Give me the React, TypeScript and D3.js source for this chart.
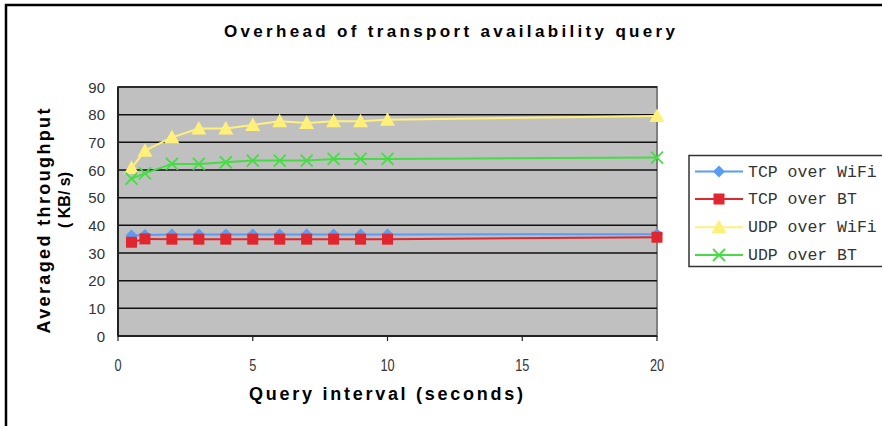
import React from "react";
import * as d3 from "d3";

const intervals = [0.5, 1, 2, 3, 4, 5, 6, 7, 8, 9, 10, 20];
const tcpWifi = [36.3, 36.5, 36.7, 36.7, 36.7, 36.7, 36.7, 36.7, 36.7, 36.7, 36.7, 36.8];
const tcpBt = [33.9, 35.1, 35.0, 35.0, 35.0, 35.0, 35.0, 35.0, 35.0, 35.0, 35.0, 35.7];
const udpWifi = [60.7, 67.0, 71.8, 75.0, 75.0, 76.3, 77.6, 77.0, 77.6, 77.6, 78.2, 79.5];
const udpBt = [56.9, 58.8, 62.2, 62.2, 62.8, 63.4, 63.4, 63.4, 64.0, 64.0, 64.0, 64.5];
const seriesNames = ["TCP over WiFi", "TCP over BT", "UDP over WiFi", "UDP over BT"];
const xTicks = [0, 5, 10, 15, 20];
const yTicks = [0, 10, 20, 30, 40, 50, 60, 70, 80, 90];

const colors = ["#5B9BF8", "#E0262E", "#FFF07A", "#44DD44"];
const markerTypes = ["diamond", "square", "triangle", "x"];

const W = 882, H = 426;
const L = 118, R = 657, T = 87, B = 336;

function Marker({ type, x, y, color }: { type: string; x: number; y: number; color: string }) {
  if (type === "diamond") {
    const s = 6;
    return <path d={`M${x},${y - s}L${x + s},${y}L${x},${y + s}L${x - s},${y}Z`} fill={color} />;
  }
  if (type === "square") {
    const s = 5.5;
    return <rect x={x - s} y={y - s} width={2 * s} height={2 * s} fill={color} />;
  }
  if (type === "triangle") {
    const s = 7.5;
    return <path d={`M${x},${y - s}L${x + s},${y + s * 0.8}L${x - s},${y + s * 0.8}Z`} fill={color} />;
  }
  const s = 6;
  return (
    <path
      d={`M${x - s},${y - s}L${x + s},${y + s}M${x - s},${y + s}L${x + s},${y - s}`}
      stroke={color}
      strokeWidth={1.8}
      fill="none"
    />
  );
}

export default function App() {
  const x = d3.scaleLinear().domain([0, 20]).range([L, R]);
  const y = d3.scaleLinear().domain([0, 90]).range([B, T]);
  const data = [tcpWifi, tcpBt, udpWifi, udpBt];
  const line = d3
    .line<number>()
    .x((_, i) => x(intervals[i]))
    .y((d) => y(d));

  const legendY = [171.5, 199, 227.3, 255];
  const mono = { fontFamily: "'Liberation Mono', 'DejaVu Sans Mono', 'Courier New', monospace" };

  return (
    <svg
      width={W}
      height={H}
      style={{ position: "absolute", left: 0, top: 0, background: "#fff" }}
      fontFamily="Liberation Sans, Arial, sans-serif"
    >
      <rect x={6} y={5} width={1000} height={1000} fill="#fff" stroke="#000" strokeWidth={2.5} />
      <text
        x={449.5}
        y={37}
        textAnchor="middle"
        fontWeight="bold"
        fontSize={17}
        textLength={451}
        lengthAdjust="spacing"
      >
        Overhead of transport availability query
      </text>

      <rect x={L} y={T} width={R - L} height={B - T} fill="#C0C0C0" stroke="#808080" strokeWidth={2} />
      {yTicks
        .filter((t) => t > 0)
        .map((t) => (
          <line key={t} x1={L} x2={R} y1={y(t)} y2={y(t)} stroke="#111" strokeWidth={1.5} />
        ))}
      <line x1={L} x2={L} y1={T} y2={B} stroke="#222" strokeWidth={2} />
      <line x1={L} x2={R} y1={B} y2={B} stroke="#222" strokeWidth={2} />
      {xTicks.map((t) => (
        <line key={t} x1={x(t)} x2={x(t)} y1={B} y2={B + 5} stroke="#222" strokeWidth={1.2} />
      ))}
      {yTicks.map((t) => (
        <text key={t} x={105} y={y(t) + 5.5} textAnchor="end" fontSize={15} fill="#333">
          {t}
        </text>
      ))}
      {xTicks.map((t) => (
        <text
          key={t}
          x={x(t)}
          y={371}
          textAnchor="middle"
          fontSize={17}
          fill="#333"
          transform={`translate(${x(t)},0) scale(0.75,1) translate(${-x(t)},0)`}
        >
          {t}
        </text>
      ))}

      {data.map((d, si) => (
        <g key={si}>
          <path d={line(d) || ""} fill="none" stroke={colors[si]} strokeWidth={2} />
          {d.map((v, i) => (
            <Marker key={i} type={markerTypes[si]} x={x(intervals[i])} y={y(v)} color={colors[si]} />
          ))}
        </g>
      ))}

      <text
        x={386}
        y={400}
        textAnchor="middle"
        fontWeight="bold"
        fontSize={18}
        textLength={274}
        lengthAdjust="spacing"
      >
        Query interval (seconds)
      </text>
      <text
        transform="translate(50,221) rotate(-90)"
        textAnchor="middle"
        fontWeight="bold"
        fontSize={18}
        textLength={225}
        lengthAdjust="spacing"
      >
        Averaged throughput
      </text>
      <text
        transform="translate(70,200) rotate(-90)"
        textAnchor="middle"
        fontWeight="bold"
        fontSize={16}
        style={{ whiteSpace: "pre" }}
      >
        {"( KB/ s)"}
      </text>

      <rect x={689} y={155.5} width={300} height={111} fill="#fff" stroke="#333" strokeWidth={1.5} />
      {seriesNames.map((n, i) => (
        <g key={n}>
          <line x1={695} x2={743} y1={legendY[i]} y2={legendY[i]} stroke={colors[i]} strokeWidth={2} />
          <Marker type={markerTypes[i]} x={719} y={legendY[i]} color={colors[i]} />
          <text x={748} y={legendY[i] + 5} style={mono} fontSize={16.5} fill="#333">
            {n}
          </text>
        </g>
      ))}
    </svg>
  );
}
